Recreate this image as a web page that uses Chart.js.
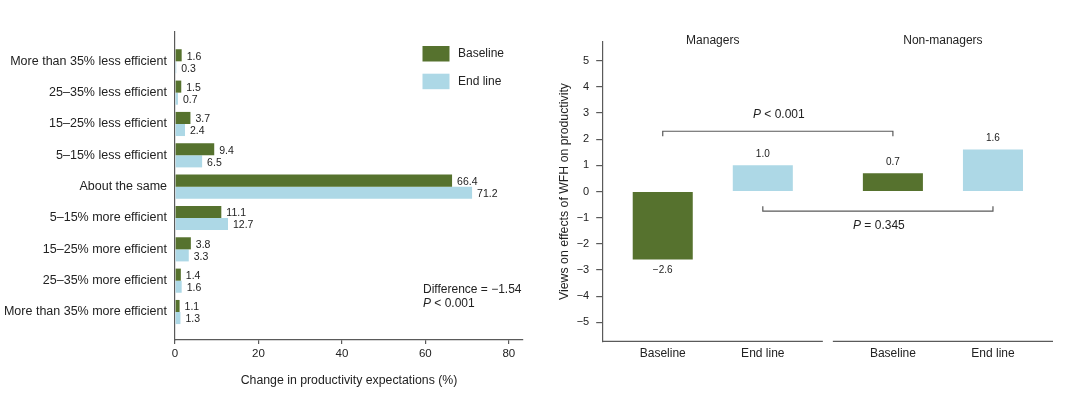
<!DOCTYPE html>
<html>
<head>
<meta charset="utf-8">
<script src="https://cdn.jsdelivr.net/npm/chart.js@4"></script>
<style>
  html, body { margin: 0; padding: 0; background: #fff; }
  #wrap { position: relative; width: 1080px; height: 393px; }
  .panel { position: absolute; top: 0; width: 540px; height: 393px; }
</style>
</head>
<body>
<div id="wrap">
  <div class="panel" style="left:0"><canvas id="expectations" width="540" height="393"></canvas></div>
  <div class="panel" style="left:540px"><canvas id="views" width="540" height="393"></canvas></div>
</div>
<script>
// Left panel: share of answers (%)
const answers = [
    'More than 35% less efficient',
    '25–35% less efficient',
    '15–25% less efficient',
    '5–15% less efficient',
    'About the same',
    '5–15% more efficient',
    '15–25% more efficient',
    '25–35% more efficient',
    'More than 35% more efficient'
];
const baselineShare = [1.6, 1.5, 3.7, 9.4, 66.4, 11.1, 3.8, 1.4, 1.1];
const endlineShare = [0.3, 0.7, 2.4, 6.5, 71.2, 12.7, 3.3, 1.6, 1.3];
const shareTicks = [0, 20, 40, 60, 80];
const shareNote = ['Difference = −1.54', '< 0.001'];

// Right panel: views on effects of WFH on productivity
const groups = ['Managers', 'Non-managers'];
const periods = ['Baseline', 'End line'];
const baselineViews = [-2.6, 0.7];
const endlineViews = [1.0, 1.6];
const viewTicks = [-5, -4, -3, -2, -1, 0, 1, 2, 3, 4, 5];
// managers vs non-managers, per period
const comparisons = [
    { period: 0, level: 2.3, text: '< 0.001' },
    { period: 1, level: -0.75, text: '= 0.345' }
];

const GREEN = '#56722e';
const BLUE = '#add8e6';
const INK = '#222';
const AXIS = '#5a5a5a';
const FONT = "'Liberation Sans', Arial, Helvetica, sans-serif";
const GROUP_STRIDE = 2.3;

Chart.defaults.font.family = FONT;
Chart.defaults.color = INK;
Chart.defaults.animation = false;

const minus = s => String(s).replace('-', '\u2212');
const xOf = (g, p) => g * GROUP_STRIDE + p;

// italic P followed by the rest of the statement
function drawPValue(ctx, text, x, y, align) {
    const italic = 'italic 12px ' + FONT;
    const plain = '12px ' + FONT;
    ctx.font = italic;
    const wP = ctx.measureText('P').width;
    ctx.font = plain;
    const wR = ctx.measureText(' ' + text).width;
    const left = align === 'center' ? x - (wP + wR) / 2 : x;
    ctx.textAlign = 'left';
    ctx.font = italic;
    ctx.fillText('P', left, y);
    ctx.font = plain;
    ctx.fillText(' ' + text, left + wP, y);
}

const expectationsDecor = {
    id: 'expectationsDecor',
    afterDatasetsDraw(chart) {
        const { ctx, chartArea: a } = chart;
        ctx.save();
        ctx.fillStyle = INK;
        ctx.textBaseline = 'middle';
        ctx.textAlign = 'left';

        // values next to the bars
        ctx.font = '10.5px ' + FONT;
        chart.data.datasets.forEach((ds, di) => {
            chart.getDatasetMeta(di).data.forEach((bar, i) => {
                ctx.fillText(ds.data[i].x.toFixed(1), bar.x + 5, bar.y + 1.5);
            });
        });

        // legend in the top right corner
        ctx.font = '12px ' + FONT;
        chart.data.datasets.forEach((ds, k) => {
            const top = a.top + 14 + k * 27.7;
            ctx.fillStyle = ds.backgroundColor;
            ctx.fillRect(a.right - 100.5, top, 27, 15.5);
            ctx.fillStyle = INK;
            ctx.fillText(ds.label, a.right - 65, top + 8);
        });

        // test result
        ctx.font = '12px ' + FONT;
        ctx.fillText(shareNote[0], a.right - 100, a.bottom - 50);
        drawPValue(ctx, shareNote[1], a.right - 100, a.bottom - 36.6, 'left');
        ctx.restore();
    }
};

new Chart(document.getElementById('expectations'), {
    type: 'bar',
    data: {
        datasets: [
            { label: 'Baseline', data: baselineShare.map((v, i) => ({ x: v, y: i })), backgroundColor: GREEN },
            { label: 'End line', data: endlineShare.map((v, i) => ({ x: v, y: i })), backgroundColor: BLUE }
        ]
    },
    options: {
        indexAxis: 'y',
        responsive: false,
        layout: { padding: { left: 0, right: 17, top: 32, bottom: 0 } },
        datasets: { bar: { categoryPercentage: 0.77, barPercentage: 1 } },
        plugins: { legend: { display: false }, tooltip: { enabled: false } },
        scales: {
            y: {
                type: 'linear',
                reverse: true,
                offset: false,
                bounds: 'data',
                min: -0.935,
                max: 8.893,
                afterBuildTicks: s => { s.ticks = answers.map((_, i) => ({ value: i })); },
                afterFit: s => { s.width = 175; },
                ticks: { callback: (v, i) => answers[i], padding: 8, font: { size: 12.5 }, color: INK, autoSkip: false },
                grid: { display: false, drawTicks: false, offset: false },
                border: { display: true, color: AXIS, width: 1.2 }
            },
            x: {
                type: 'linear',
                offset: false,
                bounds: 'data',
                min: 0,
                max: 83.4,
                afterBuildTicks: s => { s.ticks = shareTicks.map(v => ({ value: v })); },
                afterFit: s => { s.height = 53; },
                ticks: { padding: 3.4, font: { size: 11.5 }, color: INK, maxRotation: 0, autoSkip: false },
                grid: { drawOnChartArea: false, tickLength: 4, color: AXIS, lineWidth: 1.2 },
                border: { display: true, color: AXIS, width: 1.2 },
                title: {
                    display: true,
                    text: 'Change in productivity expectations (%)',
                    font: { size: 12.3 },
                    color: INK,
                    padding: { top: 0, bottom: 5 }
                }
            }
        }
    },
    plugins: [expectationsDecor]
});

const viewsDecor = {
    id: 'viewsDecor',
    afterDatasetsDraw(chart) {
        const { ctx, chartArea: a, scales: { x, y } } = chart;
        ctx.save();
        ctx.fillStyle = INK;
        ctx.textBaseline = 'middle';
        ctx.textAlign = 'center';

        // bar values
        ctx.font = '10px ' + FONT;
        chart.data.datasets.forEach((ds, di) => {
            chart.getDatasetMeta(di).data.forEach((bar, i) => {
                const v = ds.data[i].y;
                ctx.fillText(minus(v.toFixed(1)), bar.x, v < 0 ? bar.y + 10.5 : bar.y - 11);
            });
        });

        // x axis broken into one segment per group, heading above each
        ctx.strokeStyle = AXIS;
        ctx.lineWidth = 1.2;
        ctx.font = '12px ' + FONT;
        groups.forEach((name, g) => {
            const x1 = x.getPixelForValue(xOf(g, 0) - 0.6);
            const x2 = x.getPixelForValue(xOf(g, periods.length - 1) + 0.6);
            ctx.beginPath();
            ctx.moveTo(x1, a.bottom);
            ctx.lineTo(x2, a.bottom);
            ctx.stroke();
            ctx.textAlign = 'center';
            ctx.fillText(name, x.getPixelForValue(xOf(g, 0.5)), a.top - 1.3);
        });

        // brackets between managers and non-managers
        comparisons.forEach(c => {
            const x1 = x.getPixelForValue(xOf(0, c.period));
            const x2 = x.getPixelForValue(xOf(1, c.period));
            const yl = y.getPixelForValue(c.level);
            const tip = c.level > 0 ? 5 : -5;
            ctx.beginPath();
            ctx.moveTo(x1, yl + tip);
            ctx.lineTo(x1, yl);
            ctx.lineTo(x2, yl);
            ctx.lineTo(x2, yl + tip);
            ctx.stroke();
            drawPValue(ctx, c.text, (x1 + x2) / 2 + 1, c.level > 0 ? yl - 16.7 : yl + 15, 'center');
        });
        ctx.restore();
    }
};

new Chart(document.getElementById('views'), {
    type: 'bar',
    data: {
        datasets: [
            { label: 'Baseline', data: baselineViews.map((v, g) => ({ x: xOf(g, 0), y: v })), backgroundColor: GREEN },
            { label: 'End line', data: endlineViews.map((v, g) => ({ x: xOf(g, 1), y: v })), backgroundColor: BLUE }
        ]
    },
    options: {
        responsive: false,
        layout: { padding: { left: 0, right: 27, top: 41.7, bottom: 0 } },
        datasets: { bar: { grouped: false, categoryPercentage: 0.6, barPercentage: 1 } },
        plugins: { legend: { display: false }, tooltip: { enabled: false } },
        scales: {
            x: {
                type: 'linear',
                offset: false,
                bounds: 'data',
                min: -0.6,
                max: xOf(groups.length - 1, periods.length - 1) + 0.6,
                afterBuildTicks: s => {
                    s.ticks = groups.flatMap((_, g) => periods.map((_, p) => ({ value: xOf(g, p) })));
                },
                afterFit: s => { s.height = 51.7; },
                ticks: { callback: (v, i) => periods[i % periods.length], padding: 5.5, font: { size: 12 }, color: INK, maxRotation: 0, autoSkip: false },
                grid: { display: false, drawTicks: false, offset: false },
                border: { display: false }
            },
            y: {
                type: 'linear',
                bounds: 'data',
                min: -5.72,
                max: 5.72,
                afterBuildTicks: s => { s.ticks = viewTicks.map(v => ({ value: v })); },
                afterFit: s => { s.width = 62.7; },
                ticks: { callback: v => minus(v), padding: 7, font: { size: 11 }, color: INK },
                grid: { drawOnChartArea: false, tickLength: 6.5, color: AXIS, lineWidth: 1.2 },
                border: { display: true, color: AXIS, width: 1.2 },
                title: {
                    display: true,
                    text: 'Views on effects of WFH on productivity',
                    font: { size: 12.3 },
                    color: INK,
                    padding: { top: 17.5, bottom: 0 }
                }
            }
        }
    },
    plugins: [viewsDecor]
});
</script>
</body>
</html>
